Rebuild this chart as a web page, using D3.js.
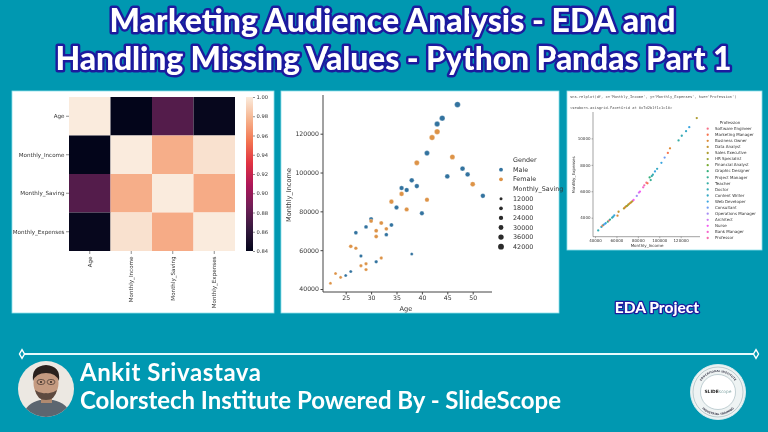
<!DOCTYPE html>
<html>
<head>
<meta charset="utf-8">
<script src="https://cdn.jsdelivr.net/npm/d3@7"></script>
<style>
  html, body { margin: 0; padding: 0; background: #0098b1; overflow: hidden; }
  svg { display: block; filter: blur(0.3px); }
  text { font-family: "DejaVu Sans", sans-serif; }
  .title { font-family: Lato, sans-serif; font-weight: 900; fill: #fff; stroke: #1c1a9e; paint-order: stroke; stroke-linejoin: round; }
  .footer { font-family: Lato, sans-serif; font-weight: 700; fill: #fff; }
  .axis path, .axis line { stroke: #444; }
  .axis text { fill: #333; }
</style>
</head>
<body>
<svg id="chart" width="768" height="432"></svg>
<script>
// heatmap
const heatLabels = ['Age', 'Monthly_Income', 'Monthly_Saving', 'Monthly_Expenses'];
const heatValues = [
    [1.000, 0.840, 0.875, 0.842],
    [0.840, 1.000, 0.975, 0.996],
    [0.875, 0.975, 1.000, 0.974],
    [0.842, 0.996, 0.974, 1.000]
];
const rocketStops = ['#03051a', '#35193e', '#701f57', '#ad1759', '#e13342', '#f37651', '#f6b48f', '#faebdd'];
const heatTicks = [0.84, 0.86, 0.88, 0.90, 0.92, 0.94, 0.96, 0.98, 1.00];

// scatter, age / income / saving by gender
const maleAge = [47, 44, 43, 41, 38, 36, 37, 39, 35, 40, 45, 48, 49, 52, 34, 30, 29, 27, 33, 28, 31, 38, 26, 25];
const maleIncome = [135000, 128000, 125000, 110000, 96000, 92000, 91000, 93000, 82000, 79000, 98000, 102000, 99000, 88000, 73000, 76000, 72000, 69000, 68000, 57000, 54000, 58000, 49000, 47000];
const maleSaving = [42000, 38000, 36000, 33000, 29000, 27000, 27000, 28000, 25000, 25000, 30000, 31000, 29000, 28000, 21000, 24000, 20000, 20000, 19000, 15000, 16000, 13000, 13000, 12500];
const femaleAge = [43, 42, 39, 46, 50, 36, 34, 37, 41, 32, 30, 31, 33, 31, 26, 27, 32, 29, 28, 29, 23, 24, 22];
const femaleIncome = [121000, 118000, 105000, 108000, 94000, 89000, 85000, 81000, 86000, 74000, 75000, 70000, 71000, 67000, 62000, 61000, 56000, 53000, 52000, 50000, 48000, 46000, 43000];
const femaleSaving = [38000, 37000, 33000, 33000, 31000, 28000, 27000, 25000, 25000, 22000, 20000, 21000, 19000, 20000, 19000, 17000, 15000, 15000, 15000, 15000, 12500, 12500, 12000];
const savingLegend = [12000, 18000, 24000, 30000, 36000, 42000];
const genderColors = { Male: '#33739f', Female: '#dd9347' };

// relplot, income vs expenses coloured by profession
const professions = ['Software Engineer', 'Marketing Manager', 'Business Owner', 'Data Analyst', 'Sales Executive', 'HR Specialist', 'Financial Analyst', 'Graphic Designer', 'Project Manager', 'Teacher', 'Doctor', 'Content Writer', 'Web Developer', 'Consultant', 'Operations Manager', 'Architect', 'Nurse', 'Bank Manager', 'Professor'];
const professionColors = ['#f77189', '#f7754f', '#dc8932', '#c39532', '#ae9d31', '#97a431', '#77ab31', '#33b07a', '#35ae93', '#36ada4', '#37abb4', '#38a9c5', '#3aa5df', '#6e9bf4', '#a48cf4', '#cc7af4', '#f45cf2', '#f565cc', '#f66bad'];
const relIncome = [43000, 46000, 47000, 48000, 49000, 50000, 52000, 53000, 54000, 56000, 57000, 58000, 61000, 62000, 67000, 68000, 69000, 70000, 71000, 72000, 73000, 74000, 75000, 76000, 79000, 81000, 82000, 85000, 86000, 88000, 89000, 91000, 92000, 93000, 94000, 96000, 98000, 102000, 105000, 108000, 110000, 118000, 121000, 125000, 128000, 135000];
const relExpenses = [3040, 3300, 3400, 3460, 3520, 3580, 3700, 3780, 3860, 4000, 4080, 4180, 4150, 4450, 4700, 4780, 4850, 4900, 4980, 5050, 5120, 5180, 5260, 5340, 5650, 5900, 5980, 6300, 6450, 6650, 6600, 7050, 6850, 7150, 7250, 7500, 7700, 8150, 8550, 8900, 9250, 9850, 10200, 10550, 10850, 11540];
const relProfession = [10, 11, 1, 9, 13, 12, 7, 0, 8, 10, 11, 12, 2, 3, 4, 2, 3, 5, 4, 3, 2, 4, 3, 16, 14, 15, 16, 17, 18, 0, 1, 7, 8, 9, 10, 12, 11, 12, 13, 1, 2, 9, 10, 11, 12, 4];
const relXTicks = [40000, 60000, 80000, 100000, 120000];
const relYTicks = [4000, 6000, 8000, 10000];

const svg = d3.select('#chart');

// white cards behind the three plots
const cards = [[12, 91, 262, 222], [281, 91, 278, 222], [567, 91, 195, 159]];
svg.selectAll('rect.card')
    .data(cards)
    .enter().append('rect')
    .attr('class', 'card')
    .attr('x', d => d[0]).attr('y', d => d[1])
    .attr('width', d => d[2]).attr('height', d => d[3])
    .attr('fill', '#fff')
    .attr('stroke', '#8fe0ea')
    .attr('stroke-width', 0.8);

// page title
const titleLines = [
    { text: 'Marketing Audience Analysis - EDA and', x: 392.5, y: 32, w: 566 },
    { text: 'Handling Missing Values - Python Pandas Part 1', x: 393.5, y: 69.5, w: 676 }
];
svg.selectAll('text.title')
    .data(titleLines)
    .enter().append('text')
    .attr('class', 'title')
    .attr('x', d => d.x).attr('y', d => d.y)
    .attr('text-anchor', 'middle')
    .attr('font-size', 32)
    .attr('stroke-width', 5)
    .attr('textLength', d => d.w)
    .style('font-family', 'Lato, sans-serif')
    .text(d => d.text);

svg.append('text')
    .attr('class', 'title')
    .attr('x', 657).attr('y', 313)
    .attr('text-anchor', 'middle')
    .attr('font-size', 15.5)
    .attr('stroke-width', 2.5)
    .style('font-family', 'Lato, sans-serif')
    .text('EDA Project');

function drawHeatmap() {
    const x = d3.scaleBand().domain(heatLabels).range([69, 235]);
    const y = d3.scaleBand().domain(heatLabels).range([97, 251]);
    const colorDomain = d3.range(rocketStops.length).map(i => 0.84 + 0.16 * i / (rocketStops.length - 1));
    const color = d3.scaleLinear().domain(colorDomain).range(rocketStops);

    heatValues.forEach((row, i) => {
        svg.append('g').selectAll('rect')
            .data(row)
            .enter().append('rect')
            .attr('x', (d, j) => x(heatLabels[j]))
            .attr('y', y(heatLabels[i]))
            .attr('width', x.bandwidth())
            .attr('height', y.bandwidth())
            .attr('fill', d => color(d));
    });

    const yAxis = svg.append('g')
        .attr('class', 'axis')
        .attr('transform', 'translate(69,0)')
        .call(d3.axisLeft(y).tickSize(3).tickPadding(1.5));
    yAxis.select('.domain').remove();
    yAxis.selectAll('line').attr('stroke-width', 0.6);
    yAxis.selectAll('text').attr('font-size', 5.6);

    const xAxis = svg.append('g')
        .attr('class', 'axis')
        .attr('transform', 'translate(0,251)')
        .call(d3.axisBottom(x).tickSize(3).tickPadding(2));
    xAxis.select('.domain').remove();
    xAxis.selectAll('line').attr('stroke-width', 0.6);
    xAxis.selectAll('text')
        .attr('font-size', 5.6)
        .attr('text-anchor', 'end')
        .attr('x', -5.5)
        .attr('y', 0)
        .attr('dy', '0.32em')
        .attr('transform', 'rotate(-90)');

    // colorbar
    const barScale = d3.scaleLinear().domain([0.84, 1]).range([251, 97]);
    const defs = svg.append('defs');
    const grad = defs.append('linearGradient')
        .attr('id', 'rocket')
        .attr('x1', 0).attr('x2', 0).attr('y1', 1).attr('y2', 0);
    rocketStops.forEach((c, i) => {
        grad.append('stop').attr('offset', i / (rocketStops.length - 1)).attr('stop-color', c);
    });
    svg.append('rect')
        .attr('x', 246).attr('y', 97)
        .attr('width', 7).attr('height', 154)
        .attr('fill', 'url(#rocket)');
    const barAxis = svg.append('g')
        .attr('class', 'axis')
        .attr('transform', 'translate(253,0)')
        .call(d3.axisRight(barScale).tickValues(heatTicks).tickFormat(d3.format('.2f')).tickSize(2).tickPadding(1.5));
    barAxis.select('.domain').remove();
    barAxis.selectAll('line').attr('stroke-width', 0.6);
    barAxis.selectAll('text').attr('font-size', 5.2);
}

function drawScatter() {
    const x = d3.scaleLinear().domain([25, 50]).range([345.7, 472.7]);
    const y = d3.scaleLinear().domain([40000, 120000]).range([289, 133.7]);
    const r = d3.scaleSqrt().domain([12000, 42000]).range([1.5, 2.9]);

    const axisX = svg.append('g')
        .attr('class', 'axis')
        .attr('transform', 'translate(0,292)')
        .call(d3.axisBottom(x).tickValues([25, 30, 35, 40, 45, 50]).tickSize(2.5).tickPadding(1.5).tickSizeOuter(0));
    axisX.select('.domain').attr('d', 'M323,0H492');
    axisX.selectAll('text').attr('font-size', 6.2);

    const axisY = svg.append('g')
        .attr('class', 'axis')
        .attr('transform', 'translate(323,0)')
        .call(d3.axisLeft(y).tickValues([40000, 60000, 80000, 100000, 120000]).tickFormat(d3.format('d')).tickSize(2.5).tickPadding(1.5));
    axisY.select('.domain').attr('d', 'M0,95V292').attr('stroke-width', 1);
    axisY.selectAll('text').attr('font-size', 6.2);

    svg.append('text').attr('x', 406).attr('y', 311).attr('text-anchor', 'middle')
        .attr('font-size', 6.6).attr('fill', '#333').text('Age');
    svg.append('text').attr('transform', 'translate(291,195) rotate(-90)').attr('text-anchor', 'middle')
        .attr('font-size', 6.6).attr('fill', '#333').text('Monthly_Income');

    const groups = [
        { name: 'Male', age: maleAge, income: maleIncome, saving: maleSaving },
        { name: 'Female', age: femaleAge, income: femaleIncome, saving: femaleSaving }
    ];
    groups.forEach(g => {
        svg.append('g').selectAll('circle')
            .data(g.age)
            .enter().append('circle')
            .attr('cx', d => x(d))
            .attr('cy', (d, i) => y(g.income[i]))
            .attr('r', (d, i) => r(g.saving[i]))
            .attr('fill', genderColors[g.name])
            .attr('stroke', '#fff')
            .attr('stroke-width', 0.3);
    });

    // legend
    const legendX = 501, textX = 513;
    const legendText = (label, yPos) => svg.append('text')
        .attr('x', textX).attr('y', yPos).attr('dy', '0.32em')
        .attr('font-size', 6.4).attr('fill', '#333').text(label);
    legendText('Gender', 160);
    ['Male', 'Female'].forEach((g, i) => {
        const yPos = 169.7 + i * 9.6;
        svg.append('circle').attr('cx', legendX).attr('cy', yPos).attr('r', 1.9).attr('fill', genderColors[g]);
        legendText(g, yPos);
    });
    legendText('Monthly_Saving', 189);
    savingLegend.forEach((v, i) => {
        const yPos = 198.7 + i * 9.6;
        svg.append('circle').attr('cx', legendX).attr('cy', yPos).attr('r', r(v)).attr('fill', '#2b2b2b');
        legendText(String(v), yPos);
    });
}

function drawRelplot() {
    const x = d3.scaleLinear().domain([40000, 120000]).range([595, 680.7]);
    const y = d3.scaleLinear().domain([4000, 10000]).range([217.7, 138.4]);

    svg.append('text').attr('x', 570).attr('y', 97).attr('dy', '0.32em')
        .style('font-family', '"DejaVu Sans Mono", monospace')
        .attr('font-size', 3.7).attr('fill', '#555')
        .text("sns.relplot(df, x='Monthly_Income', y='Monthly_Expenses', hue='Profession')");
    svg.append('text').attr('x', 570).attr('y', 107.7).attr('dy', '0.32em')
        .style('font-family', '"DejaVu Sans Mono", monospace')
        .attr('font-size', 3.7).attr('fill', '#555')
        .text('<seaborn.axisgrid.FacetGrid at 0x7d2b1f1c1c10>');

    const axisX = svg.append('g')
        .attr('class', 'axis')
        .attr('transform', 'translate(0,236.7)')
        .call(d3.axisBottom(x).tickValues(relXTicks).tickFormat(d3.format('d')).tickSize(1.5).tickPadding(1));
    axisX.select('.domain').attr('d', 'M593,0H700').attr('stroke-width', 0.5);
    axisX.selectAll('line').attr('stroke-width', 0.4);
    axisX.selectAll('text').attr('font-size', 4);

    const axisY = svg.append('g')
        .attr('class', 'axis')
        .attr('transform', 'translate(593,0)')
        .call(d3.axisLeft(y).tickValues(relYTicks).tickFormat(d3.format('d')).tickSize(1.5).tickPadding(1));
    axisY.select('.domain').attr('d', 'M0,112V236.7').attr('stroke-width', 0.5);
    axisY.selectAll('line').attr('stroke-width', 0.4);
    axisY.selectAll('text').attr('font-size', 4);

    svg.append('text').attr('x', 647).attr('y', 246).attr('dy', '0.32em').attr('text-anchor', 'middle')
        .attr('font-size', 4).attr('fill', '#333').text('Monthly_Income');
    svg.append('text').attr('transform', 'translate(575,175) rotate(-90)').attr('text-anchor', 'middle')
        .attr('font-size', 4).attr('fill', '#333').text('Monthly_Expenses');

    svg.append('g').selectAll('circle')
        .data(relIncome)
        .enter().append('circle')
        .attr('cx', d => x(d))
        .attr('cy', (d, i) => y(relExpenses[i]))
        .attr('r', 1.15)
        .attr('fill', (d, i) => professionColors[relProfession[i]]);

    svg.append('text').attr('x', 730).attr('y', 122.7).attr('dy', '0.32em').attr('text-anchor', 'middle')
        .attr('font-size', 4).attr('fill', '#333').text('Profession');
    const legendY = d3.scalePoint().domain(professions).range([128.7, 238]);
    professions.forEach((p, i) => {
        svg.append('circle').attr('cx', 707.7).attr('cy', legendY(p)).attr('r', 1.15).attr('fill', professionColors[i]);
        svg.append('text').attr('x', 715).attr('y', legendY(p)).attr('dy', '0.32em')
            .attr('font-size', 4).attr('fill', '#333').text(p);
    });
}

function drawFooter() {
    // divider with diamond ends
    svg.append('line').attr('x1', 22).attr('x2', 756).attr('y1', 354).attr('y2', 354)
        .attr('stroke', '#e6fbfd').attr('stroke-width', 2.2);
    [22, 756].forEach(cx => {
        svg.append('path')
            .attr('d', d3.symbol(d3.symbolDiamond, 22))
            .attr('transform', 'translate(' + cx + ',354)')
            .attr('fill', '#0098b1').attr('stroke', '#fff').attr('stroke-width', 1.4);
    });

    svg.append('text').attr('class', 'footer').attr('x', 80).attr('y', 381)
        .style('font-family', 'Lato, sans-serif').attr('font-size', 24)
        .attr('textLength', 181).text('Ankit Srivastava');
    svg.append('text').attr('class', 'footer').attr('x', 80).attr('y', 409)
        .style('font-family', 'Lato, sans-serif').attr('font-size', 24)
        .attr('textLength', 481).text('Colorstech Institute Powered By - SlideScope');

    // portrait
    const defs = svg.append('defs');
    defs.append('clipPath').attr('id', 'face-clip')
        .append('circle').attr('cx', 46).attr('cy', 389).attr('r', 28);
    const face = svg.append('g').attr('clip-path', 'url(#face-clip)');
    face.append('rect').attr('x', 18).attr('y', 361).attr('width', 56).attr('height', 56).attr('fill', '#ece8e2');
    face.append('path').attr('d', 'M22,417 Q26,403 40,400 L53,400 Q68,403 72,417 Z').attr('fill', '#5c6670');
    face.append('rect').attr('x', 41).attr('y', 393).attr('width', 11).attr('height', 10).attr('fill', '#b08a70');
    face.append('ellipse').attr('cx', 46).attr('cy', 383).attr('rx', 12.5).attr('ry', 16).attr('fill', '#c49a80');
    face.append('path').attr('d', 'M33,381 Q31,366 46,365 Q61,366 59,381 Q56,373 46,373 Q36,373 33,381 Z').attr('fill', '#2a211d');
    face.append('path').attr('d', 'M35,390 Q37,400 46,400 Q55,400 57,390 Q52,394 46,393 Q40,394 35,390 Z').attr('fill', '#5e4a40');
    [41, 51].forEach(cx => {
        face.append('ellipse').attr('cx', cx).attr('cy', 382).attr('rx', 4).attr('ry', 2.6)
            .attr('fill', 'none').attr('stroke', '#2d2522').attr('stroke-width', 0.6);
        face.append('circle').attr('cx', cx).attr('cy', 382).attr('r', 0.9).attr('fill', '#221a17');
    });

    // logo badge
    const cx = 718, cy = 392;
    svg.append('circle').attr('cx', cx).attr('cy', cy).attr('r', 27.5).attr('fill', '#eef3f3').attr('stroke', '#d6ebee').attr('stroke-width', 1);
    svg.append('circle').attr('cx', cx).attr('cy', cy).attr('r', 25).attr('fill', 'none').attr('stroke', '#6f8f99').attr('stroke-width', 0.4);
    svg.append('circle').attr('cx', cx).attr('cy', cy).attr('r', 17.5).attr('fill', '#fff').attr('stroke', '#6f8f99').attr('stroke-width', 0.4);
    defs.append('path').attr('id', 'logo-top').attr('d', 'M' + (cx - 20) + ',' + cy + ' A20,20 0 0 1 ' + (cx + 20) + ',' + cy);
    defs.append('path').attr('id', 'logo-bottom').attr('d', 'M' + (cx - 23) + ',' + cy + ' A23,23 0 0 0 ' + (cx + 23) + ',' + cy);
    svg.append('text').attr('font-size', 2.8).attr('font-weight', 700).attr('fill', '#445')
        .append('textPath').attr('href', '#logo-top').attr('startOffset', '50%').attr('text-anchor', 'middle')
        .text('EDUCATIONAL INSTITUTE');
    svg.append('text').attr('font-size', 2.8).attr('font-weight', 700).attr('fill', '#445')
        .append('textPath').attr('href', '#logo-bottom').attr('startOffset', '50%').attr('text-anchor', 'middle')
        .text('INDUSTRIAL TRAINING');
    const brand = svg.append('text').attr('x', cx).attr('y', cy).attr('dy', '0.32em').attr('text-anchor', 'middle').attr('font-size', 4.4);
    brand.append('tspan').attr('font-weight', 700).attr('fill', '#222').text('SLIDE');
    brand.append('tspan').attr('fill', '#8aa').text('scope');
}

drawHeatmap();
drawScatter();
drawRelplot();
drawFooter();
</script>
</body>
</html>
